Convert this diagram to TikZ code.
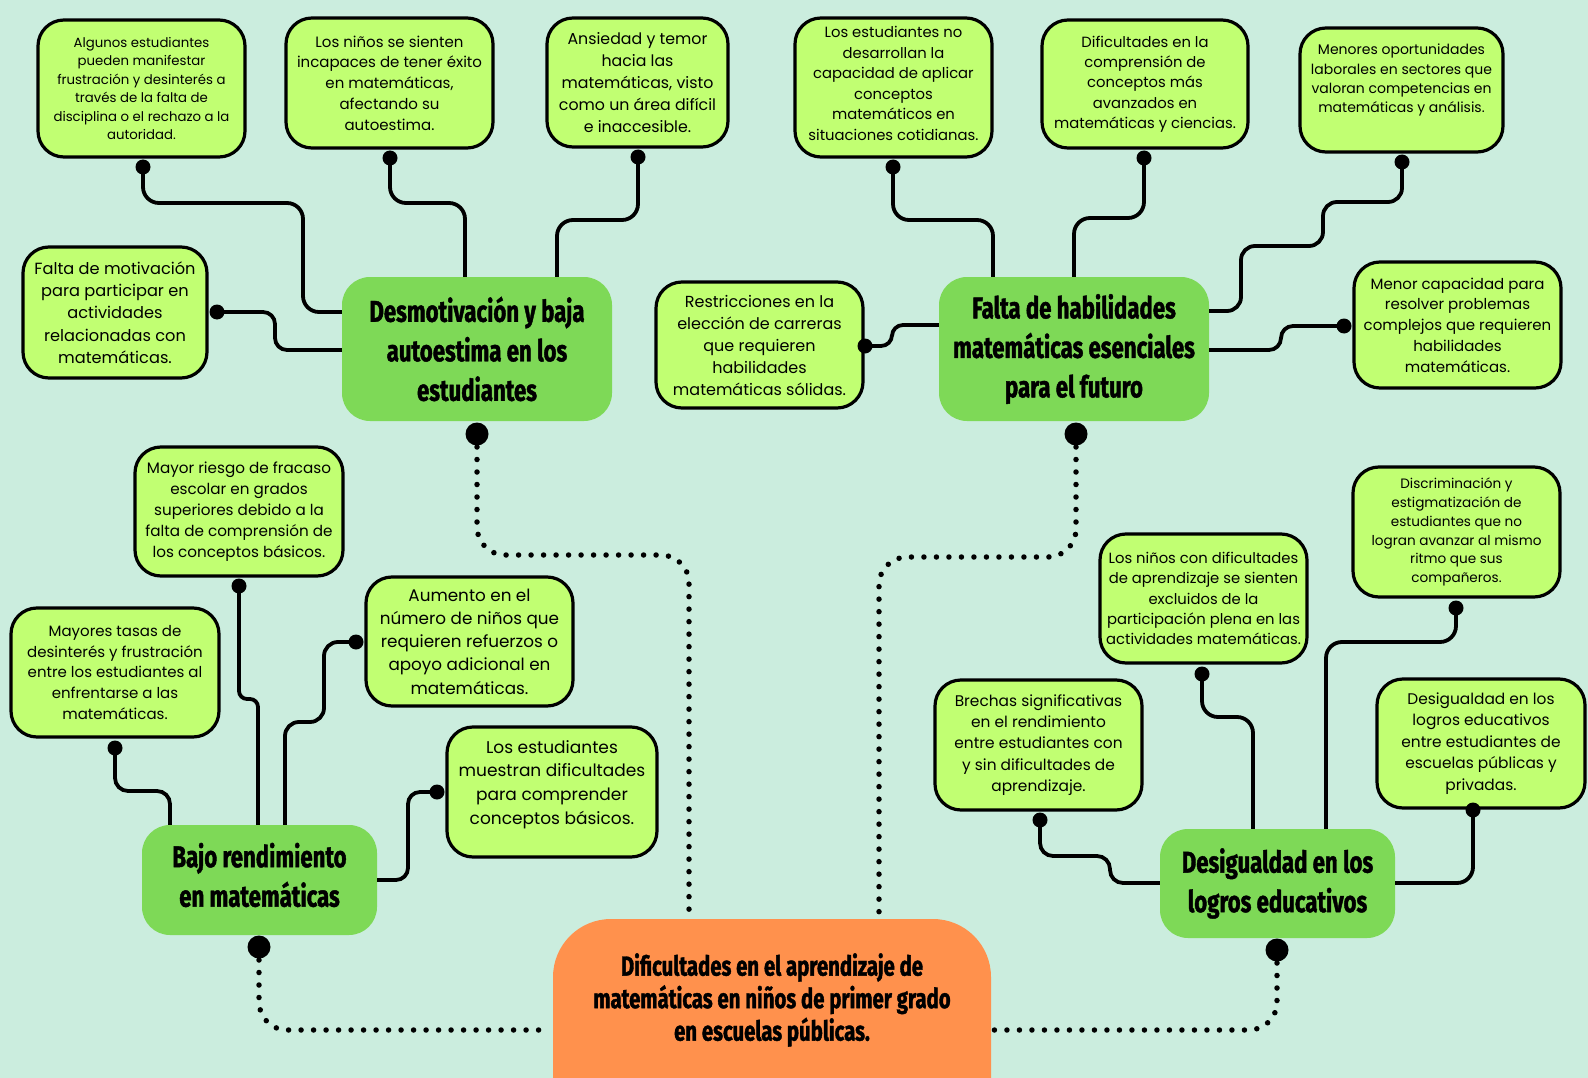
\documentclass[tikz,border=0pt]{standalone}
\usepackage{fontspec}
\setmainfont{Poppins}
\newfontfamily\headfont[FakeStretch=0.74,FakeBold=1.4]{Fira Sans}
\usetikzlibrary{calc}
\definecolor{bgc}{HTML}{CBEDDE}
\definecolor{boxc}{HTML}{C1FF72}
\definecolor{headc}{HTML}{7ED957}
\definecolor{orc}{HTML}{FF914D}
\newcommand\myfs[2]{\fontsize{#1pt}{#2pt}\selectfont}
\begin{document}
\begin{tikzpicture}[x=1pt,y=-1pt,
  sbox/.style 2 args={draw=black, line width=3.2pt, fill=boxc, rounded corners=26pt,
    align=center, inner sep=0pt, minimum width=#1pt, minimum height=#2pt},
  hbox/.style 2 args={fill=headc, rounded corners=28pt, align=center, inner sep=0pt,
    minimum width=#1pt, minimum height=#2pt, font=\headfont\bfseries\myfs{30}{39.5}},
  conn/.style={line width=3.8pt, rounded corners=16pt},
  dotline/.style={line width=5.5pt, line cap=round, dash pattern=on 0pt off 12.5pt, rounded corners=28pt},
  sdot/.style={fill=black},
]
\clip (0,0) rectangle (1588,1078);
\fill[bgc] (0,0) rectangle (1588,1078);

% ---------- headings ----------
\node[hbox={270}{144}] (h1) at (477,349) {Desmotivación y baja\\autoestima en los\\estudiantes};
\node[hbox={270}{144}] (h2) at (1074,349) {Falta de habilidades\\matemáticas esenciales\\para el futuro};
\node[hbox={235}{110}] (h3) at (259.5,880) {Bajo rendimiento\\en matemáticas\\[-29pt]~};
\node[hbox={235}{109}] (h4) at (1277.5,883.5) {Desigualdad en los\\logros educativos};
\node[fill=orc, rounded corners=58pt, minimum width=438pt, minimum height=230pt, inner sep=0pt] (o) at (772,1034) {};
\node[align=center, font=\headfont\bfseries\myfs{27.5}{32.5}] (ot) at (772,1000) {Dificultades en el aprendizaje de\\matemáticas en niños de primer grado\\en escuelas públicas.};

% ---------- small boxes ----------
\node[sbox={207}{137}, font=\myfs{13.3}{18.4}] (a1) at (141.5,88.5) {Algunos estudiantes\\pueden manifestar\\frustración y desinterés a\\través de la falta de\\disciplina o el rechazo a la\\autoridad.};
\node[sbox={207}{130}, font=\myfs{15}{20.8}] (a2) at (389.5,83) {Los niños se sienten\\incapaces de tener éxito\\en matemáticas,\\afectando su\\autoestima.};
\node[sbox={181}{129}, font=\myfs{15.8}{21.8}] (a3) at (637.5,82.5) {Ansiedad y temor\\hacia las\\matemáticas, visto\\como un área difícil\\e inaccesible.};
\node[sbox={184}{131}, font=\myfs{16.2}{22.3}] (a4) at (115,312.5) {Falta de motivación\\para participar en\\actividades\\relacionadas con\\matemáticas.};
\node[sbox={197}{139}, font=\myfs{14.8}{20.5}] (b1) at (893.5,87.5) {Los estudiantes no\\desarrollan la\\capacidad de aplicar\\conceptos\\matemáticos en\\situaciones cotidianas.\\[-12pt]~};
\node[sbox={206}{128}, font=\myfs{14.8}{20.3}] (b2) at (1145,84) {Dificultades en la\\comprensión de\\conceptos más\\avanzados en\\matemáticas y ciencias.};
\node[sbox={203}{124}, font=\myfs{14}{19.2}] (b3) at (1401.5,90) {Menores oportunidades\\laborales en sectores que\\valoran competencias en\\matemáticas y análisis.\\[4pt]~};
\node[sbox={207}{126}, font=\myfs{16}{22}] (b4) at (759.5,345) {Restricciones en la\\elección de carreras\\que requieren\\habilidades\\matemáticas sólidas.};
\node[sbox={207}{126}, font=\myfs{15}{20.8}] (b5) at (1457.5,325) {Menor capacidad para\\resolver problemas\\complejos que requieren\\habilidades\\matemáticas.};
\node[sbox={208}{129}, font=\myfs{15.2}{21}] (c1) at (239,511.5) {Mayor riesgo de fracaso\\escolar en grados\\superiores debido a la\\falta de comprensión de\\los conceptos básicos.};
\node[sbox={208}{129}, font=\myfs{15}{20.7}] (c2) at (115,672.5) {Mayores tasas de\\desinterés y frustración\\entre los estudiantes al\\enfrentarse a las\\matemáticas.};
\node[sbox={207}{129}, font=\myfs{16.8}{23.3}] (c3) at (469.5,641.5) {Aumento en el\\número de niños que\\requieren refuerzos o\\apoyo adicional en\\matemáticas.};
\node[sbox={210}{130}, font=\myfs{17}{23.6}] (c4) at (552,792) {Los estudiantes\\muestran dificultades\\para comprender\\conceptos básicos.\\[-4pt]~};
\node[sbox={207}{129}, font=\myfs{14.8}{20.3}] (d1) at (1203.5,598.5) {Los niños con dificultades\\de aprendizaje se sienten\\excluidos de la\\participación plena en las\\actividades matemáticas.};
\node[sbox={207}{130}, font=\myfs{13.6}{18.8}] (d2) at (1456.5,532) {Discriminación y\\estigmatización de\\estudiantes que no\\logran avanzar al mismo\\ritmo que sus\\compañeros.};
\node[sbox={207}{130}, font=\myfs{15.4}{21.3}] (d3) at (1038.5,745) {Brechas significativas\\en el rendimiento\\entre estudiantes con\\y sin dificultades de\\aprendizaje.};
\node[sbox={208}{129}, font=\myfs{15.4}{21.6}] (d4) at (1481,743.5) {Desigualdad en los\\logros educativos\\entre estudiantes de\\escuelas públicas y\\privadas.};

% ---------- connector dots ----------
\coordinate (a1d) at (143,167);
\coordinate (a2d) at (390,158);
\coordinate (a3d) at (638,157);
\coordinate (a4d) at (217,312);
\coordinate (b1d) at (893,167);
\coordinate (b2d) at (1144,158);
\coordinate (b3d) at (1402,162);
\coordinate (b4d) at (865,346);
\coordinate (b5d) at (1344,326);
\coordinate (c1d) at (239,586);
\coordinate (c2d) at (115,748);
\coordinate (c3d) at (356,642);
\coordinate (c4d) at (437,792);
\coordinate (d1d) at (1202,674);
\coordinate (d2d) at (1456,608);
\coordinate (d3d) at (1040,820);
\coordinate (d4d) at (1473,810);
\coordinate (h1d) at (477,434);
\coordinate (h2d) at (1076,434);
\coordinate (h3d) at (259,947);
\coordinate (h4d) at (1277,950);
\coordinate (oleft) at (542,1030);
\coordinate (oright) at (994,1030);

% ---------- connectors ----------
\draw[conn] (a1d) |- (303,203) |- (h1.west |- 0,312);
\draw[conn, rounded corners=12pt] (a4d) -| (275,350) -- (h1.west |- 0,350);
\draw[conn] (a2d) |- (465,203) -- (h1.north -| 465,0);
\draw[conn] (a3d) |- (557,220) -- (h1.north -| 557,0);
\draw[conn] (b1d) |- (993,220) -- (h2.north -| 993,0);
\draw[conn, rounded corners=11pt] (b4d) -| (892,325) -- (h2.west |- 0,325);
\draw[conn] (b2d) |- (1074,218) -- (h2.north -| 1074,0);
\draw[conn, rounded corners=14pt] (b3d) |- (1323,202) |- (1241,246) |- (h2.east |- 0,311);
\draw[conn, rounded corners=12pt] (b5d) -| (1281,350) -- (h2.east |- 0,350);
\draw[conn, rounded corners=13pt] (c2d) |- (170,791) -- (h3.north -| 170,0);
\draw[conn, rounded corners=8pt] (c1d) |- (258,699) -- (h3.north -| 258,0);
\draw[conn, rounded corners=14pt] (c3d) -| (324,722) -| (h3.north -| 285,0);
\draw[conn, rounded corners=12pt] (c4d) -| (408,880) -- (h3.east |- 0,880);
\draw[conn, rounded corners=13pt] (d3d) |- (1110,856) |- (h4.west |- 0,883);
\draw[conn] (d1d) |- (1253,717) -- (h4.north -| 1253,0);
\draw[conn] (d2d) |- (1326,642) -- (h4.north -| 1326,0);
\draw[conn] (d4d) |- (h4.east |- 0,883);

% ---------- dotted links to the central node ----------
\draw[dotline] (h1d) ++(0,13) |- (689,555) -- (o.north -| 689,0);
\draw[dotline] (h2d) ++(0,13) |- (879,557) -- (o.north -| 879,0);
\draw[dotline] (h3d) ++(0,13) |- (oleft);
\draw[dotline] (h4d) ++(0,13) |- (oright);

% ---------- dots ----------
\foreach \d in {a1d,a2d,a3d,a4d,b1d,b2d,b3d,b4d,b5d,c1d,c2d,c3d,c4d,d1d,d2d,d3d,d4d}
  \fill[sdot] (\d) circle (7.5pt);
\foreach \d in {h1d,h2d,h3d,h4d}
  \fill[sdot] (\d) circle (11.5pt);
\end{tikzpicture}
\end{document}
